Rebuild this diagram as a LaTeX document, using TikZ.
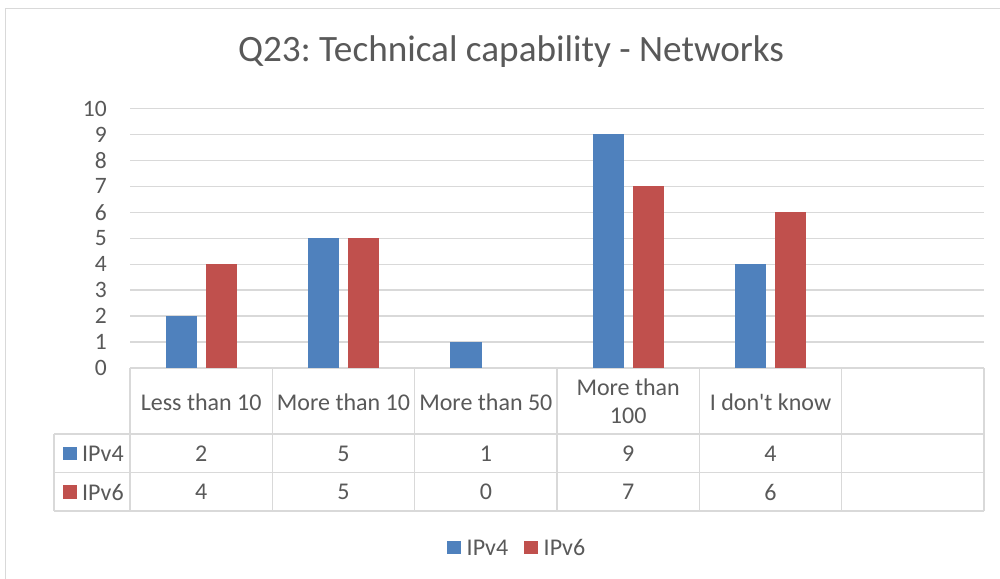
\documentclass[tikz,border=0pt]{standalone}
\usepackage{fontspec}
\setmainfont{Carlito}[Ligatures=TeXOff]
\frenchspacing
\definecolor{ipfour}{HTML}{4F81BD}
\definecolor{ipsix}{HTML}{C0504D}
\definecolor{gridc}{HTML}{D9D9D9}
\definecolor{txt}{HTML}{595959}
\tikzset{
  gridline/.style={draw=gridc, line width=1.4pt},
  tabline/.style={draw=gridc, line width=1.4pt},
  lbl/.style={text=txt, inner sep=0pt, font=\fontsize{24}{28}\selectfont},
  ticklbl/.style={lbl, anchor=east, font=\fontsize{23.5}{28}\selectfont},
}
\begin{document}
\begin{tikzpicture}[x=1pt,y=-1pt]
\useasboundingbox (0,0) rectangle (1000,578);
\fill[white] (0,0) rectangle (1000,578);
% chart border
\draw[draw=gridc, line width=1pt] (5,1000) -- (5,9) -- (1000,9);
% title
\node[text=txt, inner sep=0pt, font=\fontsize{37.2}{44}\selectfont] (title) at (511,52) {Q23: Technical capability - Networks};
% gridlines and tick labels
\foreach \k in {0,...,10} {
  \pgfmathsetmacro{\yy}{368-25.95*\k}
  \draw[gridline] (130,\yy) -- (984,\yy);
  \node[ticklbl] (tick\k) at (107,\yy) {\k};
}
% bars
\def\cw{142.333}
\foreach \i/\a/\b in {0/2/4,1/5/5,2/1/0,3/9/7,4/4/6} {
  \pgfmathsetmacro{\cx}{130+\cw*(\i+0.5)}
  \pgfmathsetmacro{\ya}{368-25.95*\a}
  \pgfmathsetmacro{\yb}{368-25.95*\b}
  \ifnum\a>0 \fill[ipfour] (\cx-35.6,368) rectangle (\cx-4.2,\ya);\fi
  \ifnum\b>0 \fill[ipsix] (\cx+4.4,368) rectangle (\cx+35.8,\yb);\fi
}
% table lines
\draw[tabline] (54,434) -- (984,434);
\draw[tabline] (54,472.7) -- (984,472.7);
\draw[tabline] (54,511) -- (984,511);
\draw[tabline] (54,434) -- (54,511);
\foreach \i in {0,...,6} {
  \pgfmathsetmacro{\xx}{130+\cw*\i}
  \draw[tabline] (\xx,368) -- (\xx,511);
}
% header texts
\node[lbl] (c0) at ({130+\cw*0.5},402) {Less than 10};
\node[lbl] (c1) at ({130+\cw*1.5},402) {More than 10};
\node[lbl] (c2) at ({130+\cw*2.5},402) {More than 50};
\node[lbl, align=center] (c3) at ({130+\cw*3.5},401) {More than\\100};
\node[lbl] (c4) at ({130+\cw*4.5},402) {I don't know};
% row labels
\fill[ipfour] (63,446.7) rectangle (76.5,460.2);
\node[lbl, anchor=west] (r4) at (82,454) {IPv4};
\fill[ipsix] (63,485) rectangle (76.5,498.5);
\node[lbl, anchor=west] (r6) at (82,492) {IPv6};
% data values
\foreach \i/\a/\b in {0/2/4,1/5/5,2/1/0,3/9/7,4/4/6} {
  \node[lbl] (va\i) at ({130+\cw*(\i+0.5)},454) {\a};
  \node[lbl] (vb\i) at ({130+\cw*(\i+0.5)},492) {\b};
}
% legend
\fill[ipfour] (447.3,540.7) rectangle (461,554.2);
\node[lbl, anchor=west] (l4) at (466.5,547.5) {IPv4};
\fill[ipsix] (524,540.7) rectangle (537.7,554.2);
\node[lbl, anchor=west] (l6) at (543.5,547.5) {IPv6};
\end{tikzpicture}
\end{document}
